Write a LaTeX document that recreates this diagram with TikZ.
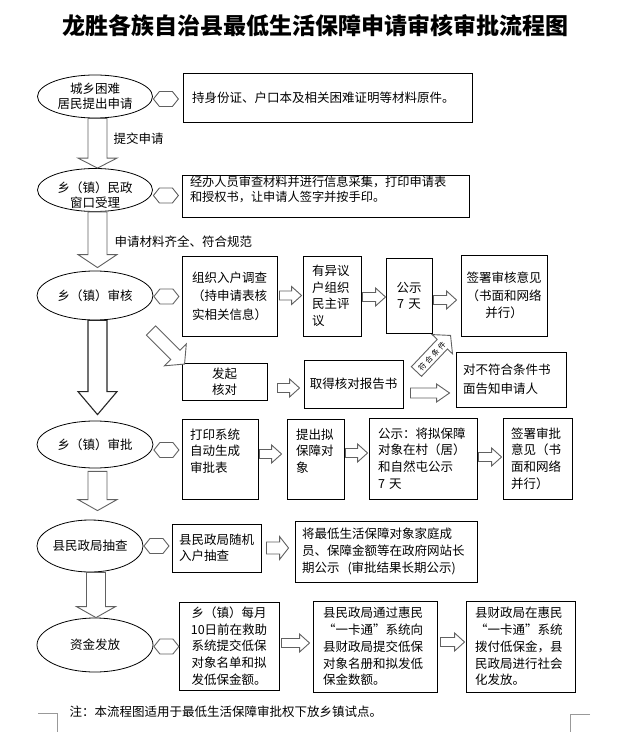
\documentclass[tikz,border=0pt]{standalone}
\usepackage{fontspec}
\setmainfont{Noto Sans CJK SC}
\usetikzlibrary{shapes.geometric,calc}
\newcommand\hexcon[2]{\draw[hexa] ($(#1.east)+(0.5,#2)$) -- ++(6,7.5) -- ++(13,0) -- ++(6,-7.5) -- ++(-6,-7.5) -- ++(-13,0) -- cycle;}
\newcommand\myLQ{\makebox[12.5pt][r]{“}}
\newcommand\myRQ{\makebox[12.5pt][l]{”}}
\begin{document}
\begin{tikzpicture}[x=1pt,y=1pt,
  every node/.style={font=\fontsize{12.5}{16.7}\selectfont, inner ysep=0pt},
  ell/.style={ellipse, draw, line width=0.8pt, inner sep=0pt, align=center, font=\fontsize{12.5}{15}\selectfont},
  bx/.style={draw, line width=0.9pt, inner ysep=0pt},
  arr/.style={draw=black!62, fill=white, line width=0.9pt, line join=miter},
  hexa/.style={draw=black!62, fill=white, line width=0.9pt},
  barrow/.style n args={3}{to path={
    let \p1=(\tikztostart), \p2=(\tikztotarget),
        \n1={atan2(\y2-\y1,\x2-\x1)}, \n2={veclen(\x2-\x1,\y2-\y1)}
    in ($(\p1)+(\n1+90:#1)$) -- ($(\p1)+(\n1:{\n2-#3})+(\n1+90:#1)$)
       -- ($(\p1)+(\n1:{\n2-#3})+(\n1+90:#2)$) -- (\p2)
       -- ($(\p1)+(\n1:{\n2-#3})+(\n1-90:#2)$) -- ($(\p1)+(\n1:{\n2-#3})+(\n1-90:#1)$)
       -- ($(\p1)+(\n1-90:#1)$) -- cycle}},
  cornermark/.style={draw=black!40, line width=0.6pt}
]
\useasboundingbox (0,0) rectangle (624,-743);

% title
\node[font=\fontsize{23}{23}\selectfont\bfseries] (title) at (315,-26) {龙胜各族自治县最低生活保障申请审核审批流程图};

% ellipses
\node[ell, minimum width=115pt, minimum height=43pt] (e1) at (95,-96.5) {城乡困难\\居民提出申请};
\node[ell, minimum width=115pt, minimum height=43pt] (e2) at (95,-190) {};
\node[font=\fontsize{12.5}{15}\selectfont, align=center] (e2t) at (95,-195) {乡（镇）民政\\窗口受理};
\node[ell, minimum width=116pt, minimum height=49pt] (e3) at (95,-295.5) {乡（镇）审核};
\node[ell, minimum width=116pt, minimum height=47pt] (e4) at (95,-444.5) {乡（镇）审批};
\node[ell, minimum width=106pt, minimum height=52pt] (e5) at (90,-546) {县民政局抽查};
\node[ell, minimum width=116pt, minimum height=54pt] (e6) at (95,-645) {资金发放};

% row 1 and 2 boxes
\node[bx, minimum height=49pt, text width=271pt, inner xsep=9pt, align=left] (b1) at (327.5,-97.5) {持身份证、户口本及相关困难证明等材料原件。};
\node[bx, minimum height=42pt, text width=271pt, inner xsep=8pt, align=left, font=\fontsize{12.2}{15}\selectfont] (b2) at (325.5,-196) {经办人员审查材料并进行信息采集，打印申请表\\和授权书，让申请人签字并按手印。\\\mbox{}};

% row 3
\node[bx, minimum height=80pt, text width=85pt, inner xsep=5pt, align=center, font=\fontsize{12.5}{18.5}\selectfont] (b3a) at (229.5,-296) {组织入户调查\\（持申请表核\\实相关信息）};
\node[bx, minimum height=80pt, text width=40pt, inner xsep=9pt, align=left, font=\fontsize{12.5}{16.5}\selectfont] (b3b) at (332,-296) {有异议\\户组织\\民主评\\议};
\node[bx, minimum height=75pt, text width=40pt, inner xsep=3pt, align=center, font=\fontsize{12.5}{16}\selectfont] (b3c) at (409,-295.5) {公示\\7 天};
\node[bx, minimum height=81pt, text width=80pt, inner xsep=3pt, align=center, font=\fontsize{12.5}{17.5}\selectfont] (b3d) at (504,-295.5) {签署审核意见\\（书面和网络\\并行）};

\node[bx, minimum height=37pt, text width=75pt, inner xsep=5pt, align=center, font=\fontsize{12.5}{16}\selectfont] (bfq) at (224.5,-381.5) {发起\\核对};
\node[bx, minimum height=48pt, text width=89pt, inner xsep=5pt, align=center] (bqd) at (353.5,-384) {取得核对报告书};
\node[bx, minimum height=55pt, text width=96pt, inner xsep=7pt, align=left, font=\fontsize{12.5}{19}\selectfont] (bbf) at (511,-379.5) {对不符合条件书\\面告知申请人};

% row 4
\node[bx, minimum height=80pt, text width=60pt, inner xsep=8pt, align=left] (b4a) at (220,-459) {打印系统\\自动生成\\审批表\\\mbox{}};
\node[bx, minimum height=80pt, text width=39pt, inner xsep=9pt, align=left] (b4b) at (315.5,-459) {提出拟\\保障对\\象\\\mbox{}};
\node[bx, minimum height=81pt, text width=90pt, inner xsep=9pt, align=left] (b4c) at (423,-458.5) {公示：将拟保障\\对象在村（居）\\和自然屯公示\\7 天};
\node[bx, minimum height=81pt, text width=53pt, inner xsep=8pt, align=left] (b4d) at (537.5,-458.5) {签署审批\\意见（书\\面和网络\\并行）};

% row 5
\node[bx, minimum height=48pt, text width=75pt, inner xsep=7pt, align=left, font=\fontsize{12.5}{16}\selectfont] (b5a) at (216.5,-548) {县民政局随机\\入户抽查};
\node[bx, minimum height=61pt, text width=168pt, inner xsep=7pt, align=left, font=\fontsize{12.5}{17}\selectfont] (b5b) at (386,-551.5) {将最低生活保障对象家庭成\\员、保障金额等在政府网站长\\期公示\hspace{8pt}(审批结果长期公示)};

% row 6
\node[bx, minimum height=88pt, text width=90pt, inner xsep=5pt, align=center, font=\fontsize{12.5}{16.8}\selectfont] (b6a) at (229,-646) {乡（镇）每月\\10日前在救助\\系统提交低保\\对象名单和拟\\发低保金额。};
\node[bx, minimum height=91pt, text width=104pt, inner xsep=10pt, align=left, font=\fontsize{12.5}{16.8}\selectfont] (b6b) at (375,-646.5) {县民政局通过惠民\\\myLQ 一卡通\myRQ 系统向\\县财政局提交低保\\对象名册和拟发低\\保金数额。};
\node[bx, minimum height=91pt, text width=91pt, inner xsep=9pt, align=left, font=\fontsize{12.5}{16.8}\selectfont] (b6c) at (520.5,-646.5) {县财政局在惠民\\\myLQ 一卡通\myRQ 系统\\拨付低保金，县\\民政局进行社会\\化发放。};

% hexagon connectors
\hexcon{e1}{-2.5}
\hexcon{e2}{-5.5}
\hexcon{e3}{-1}
\hexcon{e4}{-5.5}
\hexcon{e5}{0}
\hexcon{e6}{-1.5}

% vertical block arrows
\draw[arr, barrow={9.5}{19.5}{10}] ($(e1.south)+(2.5,0)$) to ($(e2.north)+(2.5,0)$);
\draw[arr, barrow={9.5}{19.5}{13}] ($(e2.south)+(2.5,0)$) to ($(e3.north)+(2.5,3)$);
\draw[arr, draw=black!85, line width=1.1pt, barrow={9.5}{19.5}{23}] ($(e3.south)+(2.5,0)$) to ($(e4.north)+(2.5,6)$);
\draw[arr, barrow={9.5}{19.5}{11}] ($(e4.south)+(2.5,-3)$) to ($(e4.south |- e5.north)+(2.5,9)$);
\draw[arr, barrow={9.5}{19.5}{11}] ($(e5.south)+(6,0)$) to ($(e5.south |- e6.north)+(6,0)$);

% labels on vertical arrows
\node[anchor=west] (lbl1) at (110,-139) {提交申请};
\node[anchor=west] (lbl2) at (111,-242) {申请材料齐全、符合规范};

% horizontal block arrows
\draw[arr, barrow={4.5}{9}{10}] ($(b3a.east)+(2,0.5)$) to ($(b3b.west)+(-1,0.5)$);
\draw[arr, barrow={4.5}{9}{10}] ($(b3b.east)+(1,-1)$) to ($(b3b.east -| b3c.west)+(0,-1)$);
\draw[arr, barrow={4.5}{9}{10}] ($(b3c.east)+(1,-4.5)$) to ($(b3c.east -| b3d.west)+(-4,-4.5)$);
\draw[arr, barrow={4.5}{9}{10}] ($(bfq.east)+(10,-6.5)$) to ($(bfq.east -| bqd.west)+(-4,-6.5)$);
\draw[arr, barrow={5}{9}{13}] ($(bqd.east)+(7,-9)$) to ($(bqd.east -| bbf.west)+(-6,-9)$);
\draw[arr, barrow={4.5}{9}{10}] ($(b4a.east)+(1,5)$) to ($(b4a.east -| b4b.west)+(-5,5)$);
\draw[arr, barrow={4.5}{9}{10}] ($(b4b.east)+(1,6)$) to ($(b4b.east -| b4c.west)+(-1,6)$);
\draw[arr, barrow={4.5}{9}{10}] ($(b4c.east)+(1,1.5)$) to ($(b4c.east -| b4d.west)+(-1,1.5)$);
\draw[arr, barrow={6}{11.5}{9}] ($(b5a.east)+(5,0)$) to ($(b5a.east -| b5b.west)+(-6,0)$);
\draw[arr, barrow={4.5}{9}{10}] ($(b6a.east)+(2,3)$) to ($(b6a.east -| b6b.west)+(-3,3)$);
\draw[arr, barrow={4.5}{9}{10}] ($(b6b.east)+(3,4.5)$) to ($(b6b.east -| b6c.west)+(-1,4.5)$);

% diagonal block arrows
\draw[arr, barrow={6.5}{15.5}{13}] ($(e3.center)+(56,-35)$) to ($(bfq.north west)+(3,-1.5)$);
\draw[arr, barrow={7}{14}{12}] ($(bqd.north east)+(13,-12)$) to ($(b3d.south west)+(-10,1)$);
\node[font=\fontsize{7.5}{7.5}\selectfont, rotate=47, inner sep=0pt] (lbl3) at (432,-356) {符\hspace{2pt}合\hspace{2pt}条\hspace{2pt}件};

% note
\node[anchor=west] (note) at (66,-712) {注：本流程图适用于最低生活保障审批权下放乡镇试点。};

% page corner marks
\draw[cornermark] (38,-713) -- (57,-713) -- (57,-732);
\draw[cornermark] (590,-714) -- (570,-714) -- (570,-732);
\end{tikzpicture}
\end{document}
